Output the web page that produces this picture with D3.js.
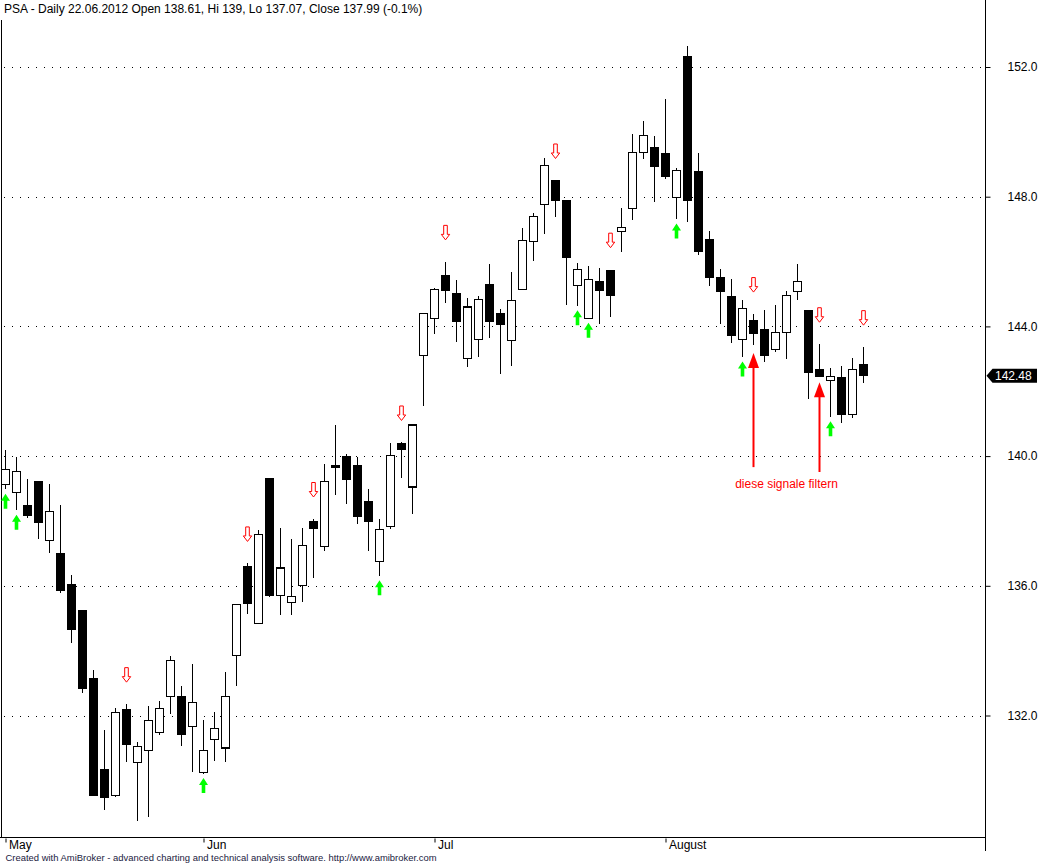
<!DOCTYPE html>
<html>
<head>
<meta charset="utf-8">
<script src="https://cdn.jsdelivr.net/npm/d3@7"></script>
<style>
	body { margin: 0; background: #fff; }
	svg { display: block; font-family: Arial, "Liberation Sans", sans-serif; }
</style>
</head>
<body>
<svg id="chart" width="1046" height="865"></svg>
<script>
// daily bars, PSA, early May .. late August 2012
const opens = [139.13, 138.88, 138.46, 139.20, 137.40, 136.98, 136.05, 135.22, 133.14, 130.32,
	129.54, 132.17, 130.55, 130.92, 131.48, 132.59, 132.59, 131.66, 130.25, 131.26,
	131.00, 133.85, 136.58, 134.84, 139.32, 135.70, 135.49, 136.01, 137.99, 137.20,
	139.72, 139.97, 139.72, 138.61, 136.75, 137.82, 140.40, 139.05, 143.11, 144.25,
	145.57, 145.02, 143.01, 143.60, 145.28, 144.40, 143.57, 145.14, 146.62, 147.77,
	148.51, 147.89, 145.27, 144.25, 145.37, 145.71, 146.93, 147.63, 149.36, 149.52,
	149.34, 147.97, 152.31, 148.76, 146.69, 145.52, 144.91, 143.60, 144.17, 143.89,
	143.29, 143.82, 145.08, 144.50, 142.68, 142.32, 142.41, 141.29, 142.81];
const highs = [140.19, 139.96, 139.29, 139.22, 139.14, 138.49, 136.33, 135.25, 133.39, 131.55,
	132.22, 132.35, 131.17, 132.29, 132.44, 133.83, 132.91, 133.58, 131.86, 132.10,
	133.33, 135.45, 136.69, 137.71, 139.32, 137.78, 137.44, 137.78, 138.06, 139.75,
	140.96, 140.06, 139.97, 139.00, 138.06, 140.40, 140.42, 140.98, 144.42, 145.18,
	145.99, 145.43, 144.87, 144.95, 145.92, 144.53, 145.68, 147.03, 147.50, 149.18,
	148.50, 147.90, 145.95, 145.86, 145.80, 145.75, 147.64, 149.93, 150.33, 149.86,
	151.01, 148.88, 152.65, 149.35, 146.94, 145.77, 145.46, 144.81, 144.38, 144.50,
	144.66, 145.09, 145.92, 144.52, 143.45, 142.72, 142.78, 143.02, 143.36];
const lows = [138.98, 138.33, 138.10, 137.45, 137.02, 135.79, 134.23, 132.68, 129.51, 129.10,
	129.49, 130.57, 128.75, 128.88, 131.41, 132.05, 131.06, 130.25, 130.21, 130.60,
	130.57, 132.92, 135.14, 134.84, 135.66, 135.10, 135.11, 135.51, 136.25, 137.06,
	138.81, 138.53, 137.91, 137.07, 136.31, 137.76, 139.33, 138.22, 141.55, 143.77,
	144.71, 143.53, 142.76, 143.06, 143.65, 142.52, 142.79, 145.14, 146.03, 146.86,
	147.38, 144.67, 144.64, 144.25, 144.06, 144.30, 146.30, 147.28, 149.16, 147.84,
	148.55, 147.31, 147.23, 146.21, 145.25, 144.07, 143.50, 143.06, 143.43, 142.91,
	143.22, 143.00, 144.81, 141.76, 142.45, 141.21, 141.03, 141.18, 142.25];
const closes = [139.59, 139.53, 138.16, 137.97, 138.30, 135.85, 134.66, 132.85, 129.54, 129.46,
	132.10, 131.10, 131.05, 131.85, 132.22, 133.70, 131.41, 132.40, 130.92, 131.60,
	132.59, 135.43, 135.45, 137.59, 135.69, 136.55, 135.67, 137.25, 137.76, 139.22,
	139.64, 139.27, 138.13, 137.99, 137.74, 140.03, 140.20, 140.96, 144.40, 145.14,
	145.10, 144.14, 144.60, 144.84, 144.14, 144.06, 144.80, 146.65, 147.39, 148.97,
	147.88, 146.13, 145.76, 145.45, 145.10, 144.95, 147.06, 149.37, 149.89, 148.92,
	148.62, 148.81, 147.88, 146.30, 145.50, 145.07, 143.71, 144.56, 143.77, 143.10,
	143.82, 144.96, 145.39, 142.57, 142.45, 142.46, 141.28, 142.68, 142.48];

const monthLabels = ['May', 'Jun', 'Jul', 'August'];
const monthStarts = [0, 18, 39, 60];
const priceTicks = [132, 136, 140, 144, 148, 152];

// signal bars (index into the arrays above)
const buySignals = [0, 1, 18, 34, 52, 53, 61, 67, 75];
const sellSignals = [11, 22, 28, 36, 40, 50, 55, 68, 74, 78];

// hand drawn note: arrows pointing at two buy signals
const noteBars = [68, 74];
const noteTips = [143.18, 142.28];
const noteTails = [139.66, 139.51];
const noteText = 'diese signale filtern';
const noteBar = 71;
const notePrice = 139.14;

const title = 'PSA - Daily 22.06.2012 Open 138.61, Hi 139, Lo 137.07, Close 137.99 (-0.1%)';
const footer = 'Created with AmiBroker - advanced charting and technical analysis software. http://www.amibroker.com';

const bars = opens.map((o, i) => ({ i, o, h: highs[i], l: lows[i], c: closes[i] }));

const svg = d3.select('#chart');
const axisX = 985.5;
const axisY = 837.5;
const step = 11;

const x = d3.scaleLinear().domain([0, 1]).range([5.5, 5.5 + step]);
const y = d3.scaleLinear().domain([132, 152]).range([715.5, 67]);

// grid
svg.append('g').selectAll('line').data(priceTicks)
	.enter()
	.append('line')
	.attr('x1', 4)
	.attr('x2', axisX - 2)
	.attr('y1', (d) => Math.round(y(d)) + 0.5)
	.attr('y2', (d) => Math.round(y(d)) + 0.5)
	.attr('stroke', '#000')
	.attr('stroke-dasharray', '1 7');

// frame
svg.append('line').attr('x1', 1.5).attr('x2', 1.5).attr('y1', 20).attr('y2', axisY)
	.attr('stroke', '#000');
svg.append('line').attr('x1', 0).attr('x2', axisX).attr('y1', axisY).attr('y2', axisY)
	.attr('stroke', '#000');
svg.append('line').attr('x1', axisX).attr('x2', axisX).attr('y1', 0).attr('y2', 851)
	.attr('stroke', '#000');

// right price axis
const yAxis = svg.append('g').attr('transform', `translate(${ axisX },0)`)
	.call(d3.axisRight(y).tickValues(priceTicks)
		.tickSize(5)
		.tickPadding(17)
		.tickFormat(d3.format('.1f')));
yAxis.select('.domain').remove();
yAxis.selectAll('line').attr('stroke', '#000');
yAxis.selectAll('text').attr('font-size', 12)
	.attr('font-family', 'Arial, "Liberation Sans", sans-serif')
	.attr('fill', '#000');

// bottom month axis
const xAxis = svg.append('g').attr('transform', `translate(0,${ axisY })`)
	.call(d3.axisBottom(x).tickValues(monthStarts)
		.tickSize(5)
		.tickFormat((d, k) => monthLabels[k]));
xAxis.select('.domain').remove();
xAxis.selectAll('line').attr('stroke', '#000').attr('y1', 1);
xAxis.selectAll('text').attr('font-size', 12)
	.attr('font-family', 'Arial, "Liberation Sans", sans-serif')
	.attr('fill', '#000')
	.attr('text-anchor', 'start')
	.attr('dx', 3)
	.attr('dy', 0)
	.attr('y', 11);

// candles
const g = svg.append('g').attr('shape-rendering', 'crispEdges');
g.selectAll('.wick').data(bars)
	.enter()
	.append('line')
	.attr('class', 'wick')
	.attr('x1', (d) => x(d.i))
	.attr('x2', (d) => x(d.i))
	.attr('y1', (d) => y(d.h))
	.attr('y2', (d) => y(d.l))
	.attr('stroke', '#000')
	.attr('stroke-width', 1.4);
g.selectAll('.body').data(bars)
	.enter()
	.append('rect')
	.attr('class', 'body')
	.attr('x', (d) => x(d.i) - 3.8)
	.attr('width', 7.6)
	.attr('y', (d) => y(Math.max(d.o, d.c)))
	.attr('height', (d) => Math.max(1, Math.abs(y(d.o) - y(d.c))))
	.attr('fill', (d) => (d.c >= d.o ? '#fff' : '#000'))
	.attr('stroke', '#000')
	.attr('stroke-width', 1.2);

// buy signals: solid green up arrows under the low
svg.append('g').selectAll('path').data(buySignals)
	.enter()
	.append('path')
	.attr('transform', (d) => `translate(${ x(d) },${ y(lows[d]) + 4.5 })`)
	.attr('d', 'M0,0L4.5,7L1.8,7L1.8,15L-1.8,15L-1.8,7L-4.5,7Z')
	.attr('fill', '#00ff00');

// sell signals: hollow red down arrows over the high
svg.append('g').selectAll('path').data(sellSignals)
	.enter()
	.append('path')
	.attr('transform', (d) => `translate(${ x(d) },${ y(highs[d]) - 22 })`)
	.attr('d', 'M0,0L-4.2,-5.5L-1.8,-5.5L-1.8,-14.5L1.8,-14.5L1.8,-5.5L4.2,-5.5Z')
	.attr('fill', '#fff')
	.attr('stroke', '#ff0000')
	.attr('stroke-width', 1);

// note arrows and text
const notes = svg.append('g');
noteBars.forEach((b, k) => {
	const tx = x(b);
	const ty = y(noteTips[k]);
	notes.append('line').attr('x1', tx)
		.attr('x2', tx)
		.attr('y1', ty + 14)
		.attr('y2', y(noteTails[k]))
		.attr('stroke', '#ff0000')
		.attr('stroke-width', 2);
	notes.append('path').attr('d', `M${ tx },${ ty }L${ tx + 5.5 },${ ty + 15 }L${ tx - 5.5 },${ ty + 15 }Z`)
		.attr('fill', '#ff0000');
});
notes.append('text').attr('x', x(noteBar))
	.attr('y', y(notePrice))
	.attr('dy', '0.35em')
	.attr('text-anchor', 'middle')
	.attr('font-size', 12)
	.attr('fill', '#ff0000')
	.text(noteText);

// last close tag
const last = closes[closes.length - 1];
const ly = y(last);
svg.append('path').attr('d', `M${ axisX + 1 },${ ly }L${ axisX + 7 },${ ly - 7 }L1037,${ ly - 7 }L1037,${ ly + 7 }L${ axisX + 7 },${ ly + 7 }Z`)
	.attr('fill', '#000');
svg.append('text').attr('x', 995)
	.attr('y', ly)
	.attr('dy', '0.36em')
	.attr('font-size', 12)
	.attr('fill', '#fff')
	.text(d3.format('.2f')(last));

// title and footer
svg.append('text').attr('x', 4)
	.attr('y', 12.5)
	.attr('font-size', 12)
	.attr('fill', '#000')
	.text(title);
svg.append('text').attr('x', 5.5)
	.attr('y', 861)
	.attr('font-size', 9)
	.attr('fill', '#1a1a40')
	.attr('textLength', 431)
	.attr('lengthAdjust', 'spacingAndGlyphs')
	.text(footer);
</script>
</body>
</html>
